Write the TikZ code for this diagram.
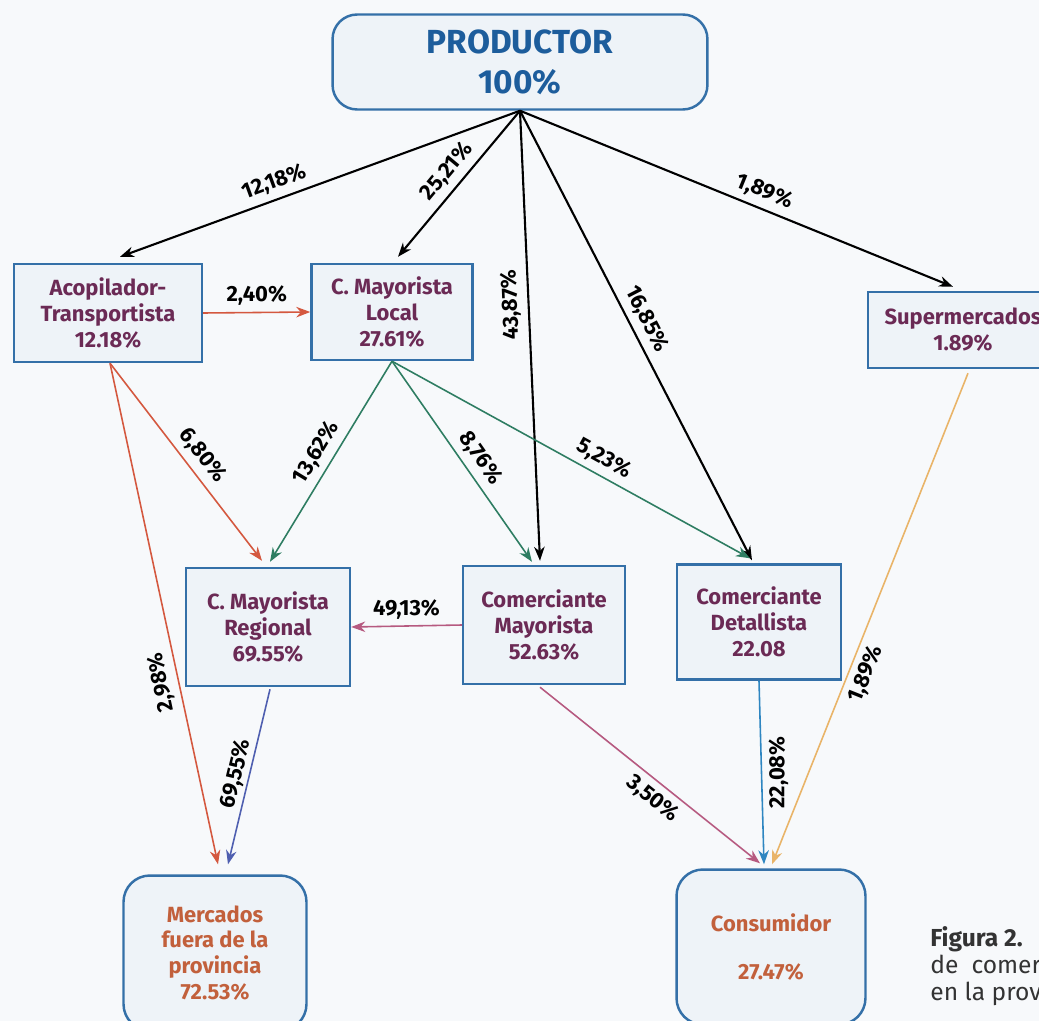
\documentclass[tikz,border=0pt]{standalone}
\usepackage{fontspec}
\setmainfont{Fira Sans}
\usetikzlibrary{positioning, arrows.meta, calc}

\definecolor{bgcol}{HTML}{F7F9FB}
\definecolor{boxline}{HTML}{3470A8}
\definecolor{boxfill}{HTML}{EEF3F8}
\definecolor{prodtext}{HTML}{1D5D9C}
\definecolor{nodetext}{HTML}{6B2A55}
\definecolor{endtext}{HTML}{C2603C}
\definecolor{redflow}{HTML}{D4583F}
\definecolor{greenflow}{HTML}{2E7D62}
\definecolor{violetflow}{HTML}{4F5FB0}
\definecolor{mauveflow}{HTML}{B65A80}
\definecolor{blueflow}{HTML}{2E86C1}
\definecolor{orangeflow}{HTML}{E9B468}

\begin{document}
\begin{tikzpicture}[x=0.02cm, y=-0.02cm, >={Stealth[length=8pt, width=6pt]},
    box/.style={draw=boxline, line width=1.4pt, fill=boxfill, align=center,
      text=nodetext, font=\fontsize{12.5}{14.7}\selectfont\bfseries, inner sep=2pt},
    endbox/.style={box, rounded corners=15pt, text=endtext},
    pct/.style={font=\fontsize{12.5}{14}\selectfont\bfseries, inner sep=3.5pt},
    flow/.style={->, line width=0.9pt},
    mainflow/.style={->, line width=1.2pt, black}]
    \useasboundingbox[fill=bgcol] (0,0) rectangle (1039,1021);
    \clip (0,0) rectangle (1039,1021);

    % Producer
    \node[box, rounded corners=14pt, text=prodtext, minimum width=7.5cm, minimum height=1.9cm,
      font=\fontsize{19}{22.7}\selectfont\bfseries] (prod) at (520,62) {PRODUCTOR\\100\%};

    % Intermediaries
    \node[box, minimum width=3.76cm, minimum height=1.96cm] (acop) at (108,313) {Acopilador-\\Transportista\\12.18\%};
    \node[box, minimum width=3.22cm, minimum height=1.92cm] (local) at (392,312) {C. Mayorista\\Local\\27.61\%};
    \node[box, minimum width=3.8cm, minimum height=1.52cm] (super) at (963,330) {Supermercados\\1.89\%};
    \node[box, minimum width=3.28cm, minimum height=2.36cm] (reg) at (268,627) {C. Mayorista\\Regional\\69.55\%};
    \node[box, minimum width=3.24cm, minimum height=2.36cm] (commay) at (544,625) {Comerciante\\Mayorista\\52.63\%};
    \node[box, minimum width=3.28cm, minimum height=2.3cm] (detal) at (759,622) {Comerciante\\Detallista\\22.08};

    % Final destinations
    \node[endbox, minimum width=3.66cm, minimum height=3.1cm] (merc) at (215,953)
      {Mercados\\fuera de la\\provincia\\72.53\%};
    \node[endbox, minimum width=3.78cm, minimum height=3.1cm] (cons) at (771,947)
      {Consumidor\\[13pt]27.47\%};

    % Caption (cut at the page edge)
    \node[anchor=west, align=left, text=black!80, font=\fontsize{14}{15.5}\selectfont, inner sep=0pt] (capt)
      at (930,966) {\textbf{Figura 2.}\\de\ \ comer\\en la prov};

    % Flows from the producer
    \draw[mainflow] (prod.south) -- ($(acop.north)+(12,-6)$)
      node[pct, pos=.6, sloped, above] {12,18\%};
    \draw[mainflow] (prod.south) -- ($(local.north)+(6,-6)$)
      node[pct, pos=.49, sloped, above] {25,21\%};
    \draw[mainflow] (prod.south) -- ($(commay.north)+(-4,-4)$)
      node[pct, pos=.43, rotate=92.3, above] {43,87\%};
    \draw[mainflow] (prod.south) -- ($(detal.north)+(-7,-3)$)
      node[pct, pos=.48, sloped, above] {16,85\%};
    \draw[mainflow] (prod.south) -- ($(super.north)+(-10,-4)$)
      node[pct, pos=.55, sloped, above] {1,89\%};

    % Acopilador
    \draw[flow, redflow] (acop.east) -- (local.west)
      node[pct, midway, above, text=black] {2,40\%};
    \draw[flow, redflow] ($(acop.south)+(2,0)$) -- ($(reg.north)+(-6,-6)$)
      node[pct, pos=.52, sloped, above, text=black] {6,80\%};
    \draw[flow, redflow] ($(acop.south)+(2,0)$) -- ($(merc.north)+(3,-10)$)
      node[pct, pos=.63, rotate=102.1, above, text=black] {2,98\%};

    % C. Mayorista Local
    \draw[flow, greenflow] (local.south) -- ($(reg.north)+(2,-5)$)
      node[pct, pos=.5, sloped, above, text=black] {13,62\%};
    \draw[flow, greenflow] (local.south) -- ($(commay.north)+(-12,-3)$)
      node[pct, pos=.53, sloped, above, text=black] {8,76\%};
    \draw[flow, greenflow] (local.south) -- ($(detal.north)+(-9,-5)$)
      node[pct, pos=.57, sloped, above, text=black] {5,23\%};

    % Regional and Comerciante Mayorista
    \draw[flow, violetflow] ($(reg.south)+(2,2)$) -- ($(merc.north)+(13,-10)$)
      node[pct, pos=.5, sloped, above, inner sep=1.5pt, text=black] {69,55\%};
    \draw[flow, mauveflow] (commay.west) -- (reg.east)
      node[pct, midway, above, text=black] {49,13\%};
    \draw[flow, mauveflow] ($(commay.south)+(-4,2)$) -- ($(cons.north)+(-11,-5)$)
      node[pct, pos=.56, sloped, below, text=black] {3,50\%};

    % To the consumer
    \draw[flow, blueflow] (detal.south) -- ($(cons.north)+(-7,-4)$)
      node[pct, pos=.5, rotate=90, below, text=black] {22,08\%};
    \draw[flow, orangeflow] ($(super.south)+(5,4)$) -- ($(cons.north)+(1,-4)$)
      node[pct, pos=.6, sloped, below, text=black] {1,89\%};
\end{tikzpicture}
\end{document}
